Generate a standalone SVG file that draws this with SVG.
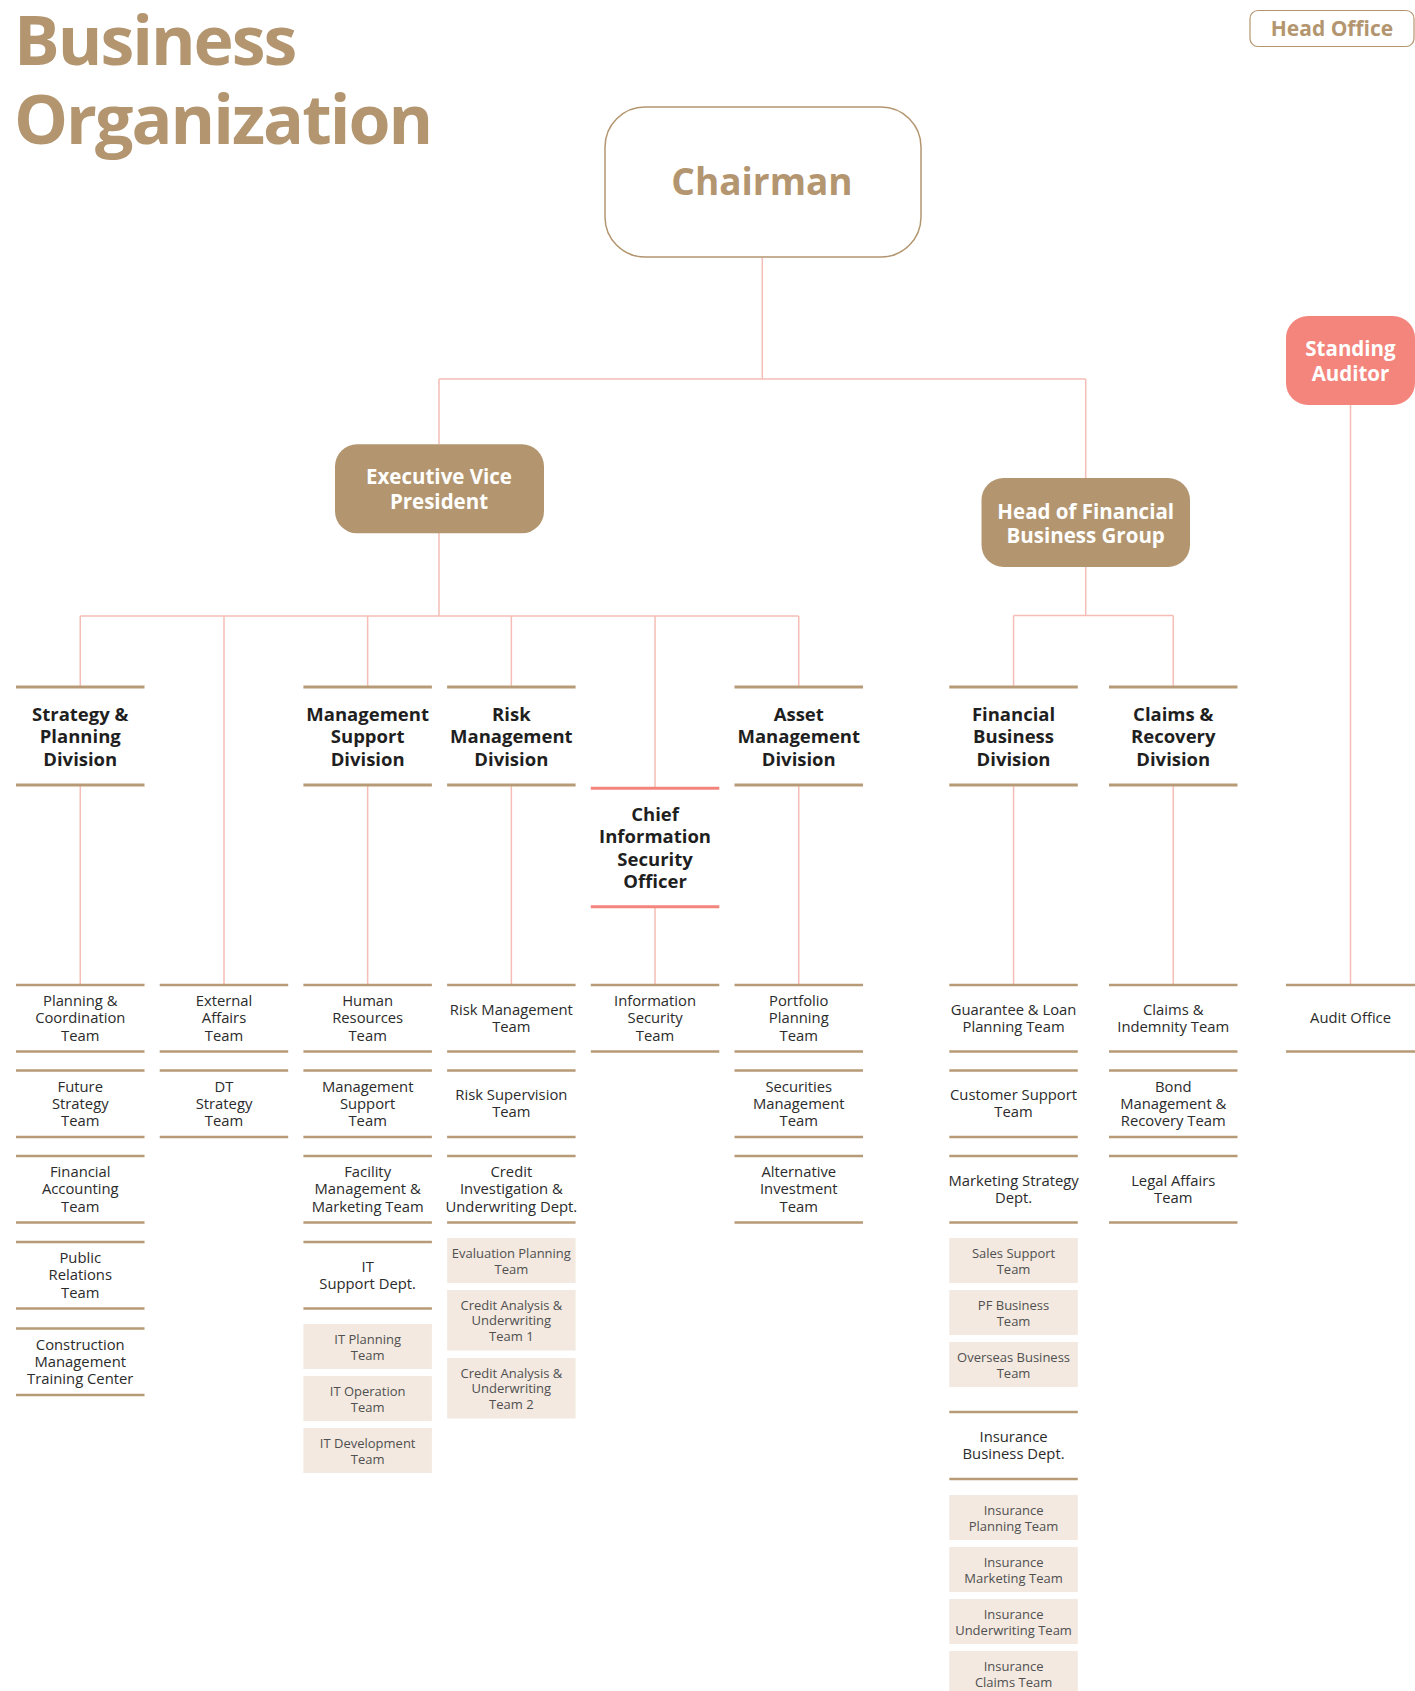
<svg xmlns="http://www.w3.org/2000/svg" width="1415" height="1691" viewBox="0 0 1415 1691">
<style>
.ln{stroke:#F5BDB5;stroke-width:1.5;fill:none}
.bar{stroke:#B79B77;stroke-width:3}
.tb{stroke:#B79B77;stroke-width:2.5}
.rb{stroke:#F3857D;stroke-width:3}
.sh{fill:#F3E9E0}
.title{font-family:'Open Sans',sans-serif;font-weight:700;font-size:68px;letter-spacing:-2px;fill:#B39670}
.wt{font-family:'Open Sans',sans-serif;font-weight:700;font-size:20.5px;fill:#ffffff;text-anchor:middle}
.dv{font-family:'Open Sans',sans-serif;font-weight:700;font-size:18.5px;fill:#1f1f1f;text-anchor:middle}
.tm{font-family:'Open Sans',sans-serif;font-weight:500;font-size:14.8px;fill:#2b2b2b;text-anchor:middle}
.sb{font-family:'Open Sans',sans-serif;font-weight:400;font-size:13px;fill:#505050;text-anchor:middle}
</style>
<rect x="0" y="0" width="1415" height="1691" fill="#ffffff"/>
<g id="title">
<text class="title" x="14" y="65">Business</text>
<text class="title" x="14" y="144">Organization</text>
</g>
<g id="connectors">
<path class="ln" d="M762.3 257V379M439 379H1085.7M439 379V444M1085.7 379V478"/>
<path class="ln" d="M439 533V616M80.25 616H798.75M1085.7 567V615.5M1013.55 615.5H1173.25"/>
<path class="ln" d="M80.25 616V687M80.25 785V985"/>
<path class="ln" d="M224 616V985"/>
<path class="ln" d="M367.65 616V687M367.65 785V985"/>
<path class="ln" d="M511.35 616V687M511.35 785V985"/>
<path class="ln" d="M655.05 616V788M655.05 907V985"/>
<path class="ln" d="M798.75 616V687M798.75 785V985"/>
<path class="ln" d="M1013.55 615.5V687M1013.55 785V985"/>
<path class="ln" d="M1173.25 615.5V687M1173.25 785V985"/>
<path class="ln" d="M1350.5 405V985"/>
</g>
<g id="head-office">
<rect x="1250" y="10.5" width="164" height="36" rx="8" fill="#ffffff" stroke="#B39670" stroke-width="1.2"/>
<text x="1332" y="36" font-family="'Open Sans',sans-serif" font-weight="700" font-size="21" fill="#B39670" text-anchor="middle">Head Office</text>
</g>
<g id="chairman">
<rect x="605" y="107" width="316" height="150" rx="40" fill="#ffffff" stroke="#B39670" stroke-width="1.5"/>
<text x="762" y="195" font-family="'Open Sans',sans-serif" font-weight="700" font-size="37" fill="#B39670" text-anchor="middle">Chairman</text>
</g>
<g id="standing-auditor">
<rect x="1286" y="316" width="129" height="89" rx="22" fill="#F3857D"/>
<text class="wt" x="1350.5" y="356">Standing</text>
<text class="wt" x="1350.5" y="381">Auditor</text>
</g>
<g id="evp">
<rect x="335" y="444.3" width="209" height="89" rx="22" fill="#B39670"/>
<text class="wt" x="439" y="484">Executive Vice</text>
<text class="wt" x="439" y="509">President</text>
</g>
<g id="hofbg">
<rect x="981.5" y="478" width="208.5" height="89" rx="22" fill="#B39670"/>
<text class="wt" x="1085.7" y="518.6">Head of Financial</text>
<text class="wt" x="1085.7" y="543.4">Business Group</text>
</g>
<g id="div-strategy">
<path class="bar" d="M16 687H144.5M16 785H144.5"/>
<text class="dv" x="80.25" y="720.7">Strategy &amp;</text>
<text class="dv" x="80.25" y="743.3">Planning</text>
<text class="dv" x="80.25" y="765.6">Division</text>
</g>
<g id="div-mgmt">
<path class="bar" d="M303.4 687H431.9M303.4 785H431.9"/>
<text class="dv" x="367.65" y="720.7">Management</text>
<text class="dv" x="367.65" y="743.3">Support</text>
<text class="dv" x="367.65" y="765.6">Division</text>
</g>
<g id="div-risk">
<path class="bar" d="M447.1 687H575.6M447.1 785H575.6"/>
<text class="dv" x="511.35" y="720.7">Risk</text>
<text class="dv" x="511.35" y="743.3">Management</text>
<text class="dv" x="511.35" y="765.6">Division</text>
</g>
<g id="ciso">
<path class="rb" d="M590.8 788.3H719.3M590.8 906.7H719.3"/>
<text class="dv" x="655.05" y="821">Chief</text>
<text class="dv" x="655.05" y="843.3">Information</text>
<text class="dv" x="655.05" y="865.6">Security</text>
<text class="dv" x="655.05" y="887.8">Officer</text>
</g>
<g id="div-asset">
<path class="bar" d="M734.5 687H863M734.5 785H863"/>
<text class="dv" x="798.75" y="720.7">Asset</text>
<text class="dv" x="798.75" y="743.3">Management</text>
<text class="dv" x="798.75" y="765.6">Division</text>
</g>
<g id="div-financial">
<path class="bar" d="M949.3 687H1077.8M949.3 785H1077.8"/>
<text class="dv" x="1013.55" y="720.7">Financial</text>
<text class="dv" x="1013.55" y="743.3">Business</text>
<text class="dv" x="1013.55" y="765.6">Division</text>
</g>
<g id="div-claims">
<path class="bar" d="M1109 687H1237.5M1109 785H1237.5"/>
<text class="dv" x="1173.25" y="720.7">Claims &amp;</text>
<text class="dv" x="1173.25" y="743.3">Recovery</text>
<text class="dv" x="1173.25" y="765.6">Division</text>
</g>
<g id="teams-col1">
<path class="tb" d="M16 985H144.5M16 1051.5H144.5M16 1070.5H144.5M16 1137H144.5M16 1156H144.5M16 1222.5H144.5M16 1242H144.5M16 1308.5H144.5M16 1328.5H144.5M16 1395H144.5"/>
<text class="tm" x="80.25" y="1006">Planning &amp;</text><text class="tm" x="80.25" y="1023.25">Coordination</text><text class="tm" x="80.25" y="1040.5">Team</text>
<text class="tm" x="80.25" y="1091.5">Future</text><text class="tm" x="80.25" y="1108.75">Strategy</text><text class="tm" x="80.25" y="1126">Team</text>
<text class="tm" x="80.25" y="1177">Financial</text><text class="tm" x="80.25" y="1194.25">Accounting</text><text class="tm" x="80.25" y="1211.5">Team</text>
<text class="tm" x="80.25" y="1263">Public</text><text class="tm" x="80.25" y="1280.25">Relations</text><text class="tm" x="80.25" y="1297.5">Team</text>
<text class="tm" x="80.25" y="1349.5">Construction</text><text class="tm" x="80.25" y="1366.75">Management</text><text class="tm" x="80.25" y="1384">Training Center</text>
</g>
<g id="teams-col2">
<path class="tb" d="M159.7 985H288.2M159.7 1051.5H288.2M159.7 1070.5H288.2M159.7 1137H288.2"/>
<text class="tm" x="224" y="1006">External</text><text class="tm" x="224" y="1023.25">Affairs</text><text class="tm" x="224" y="1040.5">Team</text>
<text class="tm" x="224" y="1091.5">DT</text><text class="tm" x="224" y="1108.75">Strategy</text><text class="tm" x="224" y="1126">Team</text>
</g>
<g id="teams-col3">
<path class="tb" d="M303.4 985H431.9M303.4 1051.5H431.9M303.4 1070.5H431.9M303.4 1137H431.9M303.4 1156H431.9M303.4 1222.5H431.9M303.4 1242H431.9M303.4 1308.5H431.9"/>
<text class="tm" x="367.65" y="1006">Human</text><text class="tm" x="367.65" y="1023.25">Resources</text><text class="tm" x="367.65" y="1040.5">Team</text>
<text class="tm" x="367.65" y="1091.5">Management</text><text class="tm" x="367.65" y="1108.75">Support</text><text class="tm" x="367.65" y="1126">Team</text>
<text class="tm" x="367.65" y="1177">Facility</text><text class="tm" x="367.65" y="1194.25">Management &amp;</text><text class="tm" x="367.65" y="1211.5">Marketing Team</text>
<text class="tm" x="367.65" y="1271.6">IT</text><text class="tm" x="367.65" y="1288.9">Support Dept.</text>
<rect class="sh" x="303.4" y="1324" width="128.5" height="45"/>
<rect class="sh" x="303.4" y="1376" width="128.5" height="45"/>
<rect class="sh" x="303.4" y="1428" width="128.5" height="45"/>
<text class="sb" x="367.65" y="1343.5">IT Planning</text><text class="sb" x="367.65" y="1359.5">Team</text>
<text class="sb" x="367.65" y="1395.5">IT Operation</text><text class="sb" x="367.65" y="1411.5">Team</text>
<text class="sb" x="367.65" y="1447.5">IT Development</text><text class="sb" x="367.65" y="1463.5">Team</text>
</g>
<g id="teams-col4">
<path class="tb" d="M447.1 985H575.6M447.1 1051.5H575.6M447.1 1070.5H575.6M447.1 1137H575.6M447.1 1156H575.6M447.1 1222.5H575.6"/>
<text class="tm" x="511.35" y="1014.6">Risk Management</text><text class="tm" x="511.35" y="1031.9">Team</text>
<text class="tm" x="511.35" y="1100.1">Risk Supervision</text><text class="tm" x="511.35" y="1117.4">Team</text>
<text class="tm" x="511.35" y="1177">Credit</text><text class="tm" x="511.35" y="1194.25">Investigation &amp;</text><text class="tm" x="511.35" y="1211.5">Underwriting Dept.</text>
<rect class="sh" x="447.1" y="1238" width="128.5" height="45"/>
<rect class="sh" x="447.1" y="1290" width="128.5" height="60.5"/>
<rect class="sh" x="447.1" y="1358" width="128.5" height="60.5"/>
<text class="sb" x="511.35" y="1257.5">Evaluation Planning</text><text class="sb" x="511.35" y="1273.5">Team</text>
<text class="sb" x="511.35" y="1309.5">Credit Analysis &amp;</text><text class="sb" x="511.35" y="1325.3">Underwriting</text><text class="sb" x="511.35" y="1341">Team 1</text>
<text class="sb" x="511.35" y="1377.5">Credit Analysis &amp;</text><text class="sb" x="511.35" y="1393.3">Underwriting</text><text class="sb" x="511.35" y="1409">Team 2</text>
</g>
<g id="teams-col5">
<path class="tb" d="M590.8 985H719.3M590.8 1051.5H719.3"/>
<text class="tm" x="655.05" y="1006">Information</text><text class="tm" x="655.05" y="1023.25">Security</text><text class="tm" x="655.05" y="1040.5">Team</text>
</g>
<g id="teams-col6">
<path class="tb" d="M734.5 985H863M734.5 1051.5H863M734.5 1070.5H863M734.5 1137H863M734.5 1156H863M734.5 1222.5H863"/>
<text class="tm" x="798.75" y="1006">Portfolio</text><text class="tm" x="798.75" y="1023.25">Planning</text><text class="tm" x="798.75" y="1040.5">Team</text>
<text class="tm" x="798.75" y="1091.5">Securities</text><text class="tm" x="798.75" y="1108.75">Management</text><text class="tm" x="798.75" y="1126">Team</text>
<text class="tm" x="798.75" y="1177">Alternative</text><text class="tm" x="798.75" y="1194.25">Investment</text><text class="tm" x="798.75" y="1211.5">Team</text>
</g>
<g id="teams-col7">
<path class="tb" d="M949.3 985H1077.8M949.3 1051.5H1077.8M949.3 1070.5H1077.8M949.3 1137H1077.8M949.3 1156H1077.8M949.3 1222.5H1077.8M949.3 1412H1077.8M949.3 1479H1077.8"/>
<text class="tm" x="1013.55" y="1014.6">Guarantee &amp; Loan</text><text class="tm" x="1013.55" y="1031.9">Planning Team</text>
<text class="tm" x="1013.55" y="1100.1">Customer Support</text><text class="tm" x="1013.55" y="1117.4">Team</text>
<text class="tm" x="1013.55" y="1185.6">Marketing Strategy</text><text class="tm" x="1013.55" y="1202.9">Dept.</text>
<rect class="sh" x="949.3" y="1238" width="128.5" height="45"/>
<rect class="sh" x="949.3" y="1290" width="128.5" height="45"/>
<rect class="sh" x="949.3" y="1342" width="128.5" height="45"/>
<text class="sb" x="1013.55" y="1257.5">Sales Support</text><text class="sb" x="1013.55" y="1273.5">Team</text>
<text class="sb" x="1013.55" y="1309.5">PF Business</text><text class="sb" x="1013.55" y="1325.5">Team</text>
<text class="sb" x="1013.55" y="1361.5">Overseas Business</text><text class="sb" x="1013.55" y="1377.5">Team</text>
<text class="tm" x="1013.55" y="1441.85">Insurance</text><text class="tm" x="1013.55" y="1459.15">Business Dept.</text>
<rect class="sh" x="949.3" y="1495" width="128.5" height="45"/>
<rect class="sh" x="949.3" y="1547" width="128.5" height="45"/>
<rect class="sh" x="949.3" y="1599" width="128.5" height="45"/>
<rect class="sh" x="949.3" y="1651" width="128.5" height="45"/>
<text class="sb" x="1013.55" y="1514.5">Insurance</text><text class="sb" x="1013.55" y="1530.5">Planning Team</text>
<text class="sb" x="1013.55" y="1566.5">Insurance</text><text class="sb" x="1013.55" y="1582.5">Marketing Team</text>
<text class="sb" x="1013.55" y="1618.5">Insurance</text><text class="sb" x="1013.55" y="1634.5">Underwriting Team</text>
<text class="sb" x="1013.55" y="1670.5">Insurance</text><text class="sb" x="1013.55" y="1686.5">Claims Team</text>
</g>
<g id="teams-col8">
<path class="tb" d="M1109 985H1237.5M1109 1051.5H1237.5M1109 1070.5H1237.5M1109 1137H1237.5M1109 1156H1237.5M1109 1222.5H1237.5"/>
<text class="tm" x="1173.25" y="1014.6">Claims &amp;</text><text class="tm" x="1173.25" y="1031.9">Indemnity Team</text>
<text class="tm" x="1173.25" y="1091.5">Bond</text><text class="tm" x="1173.25" y="1108.75">Management &amp;</text><text class="tm" x="1173.25" y="1126">Recovery Team</text>
<text class="tm" x="1173.25" y="1185.6">Legal Affairs</text><text class="tm" x="1173.25" y="1202.9">Team</text>
</g>
<g id="audit-office">
<path class="tb" d="M1286 985H1415M1286 1051.5H1415"/>
<text class="tm" x="1350.5" y="1023.3">Audit Office</text>
</g>
</svg>
